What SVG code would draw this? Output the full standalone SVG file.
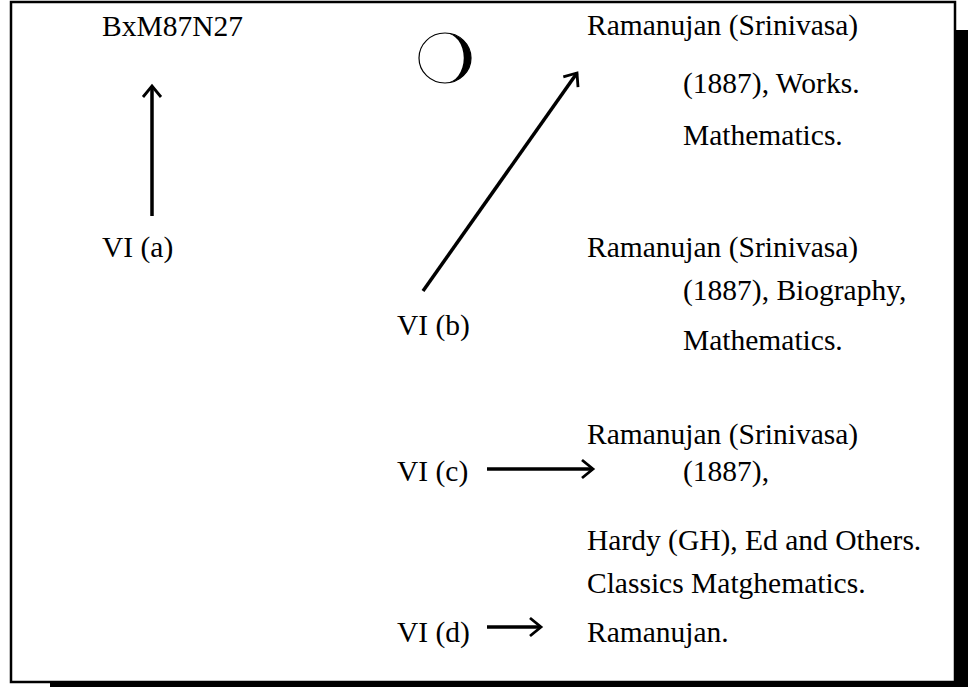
<svg xmlns="http://www.w3.org/2000/svg" width="972" height="687" viewBox="0 0 972 687">
<style>
text{font-family:"Liberation Serif","Times New Roman",serif;font-size:29.5px;fill:#000}
.ln{stroke:#000;stroke-width:3.5;fill:none}
</style>
<defs>
<marker id="ah" markerWidth="16" markerHeight="22" refX="12.5" refY="10" orient="auto" markerUnits="userSpaceOnUse" viewBox="0 0 16 20">
<path d="M1.5,1 L12.5,10 L1.5,19" fill="none" stroke="#000" stroke-width="2.8"/>
</marker>
</defs>
<rect x="50" y="30" width="918" height="670" fill="#000"/>
<rect x="11" y="2" width="944" height="680" fill="#fff" stroke="#000" stroke-width="2.5"/>
<g id="connectors">
<line class="ln" x1="152" y1="216" x2="152" y2="86" marker-end="url(#ah)"/>
<line class="ln" x1="423" y1="291" x2="577" y2="73" marker-end="url(#ah)"/>
<line class="ln" x1="487" y1="469" x2="593" y2="469" marker-end="url(#ah)"/>
<line class="ln" x1="487" y1="627" x2="541" y2="627" marker-end="url(#ah)"/>
</g>
<g id="circle">
<ellipse cx="445" cy="58" rx="26" ry="25" fill="none" stroke="#000" stroke-width="1.2"/>
<path d="M445,33 A26,25 0 0 1 445,83 A18,24 0 0 0 445,33 Z" fill="#000"/>
</g>
<g id="node-bxm"><text x="102" y="36">BxM87N27</text></g>
<g id="node-via"><text x="102" y="257">VI (a)</text></g>
<g id="node-vib"><text x="397" y="335">VI (b)</text></g>
<g id="node-vic"><text x="397" y="481">VI (c)</text></g>
<g id="node-vid"><text x="397" y="642">VI (d)</text></g>
<g id="node-works">
<text x="587" y="35">Ramanujan (Srinivasa)</text>
<text x="683" y="93">(1887), Works.</text>
<text x="683" y="145">Mathematics.</text>
</g>
<g id="node-bio">
<text x="587" y="257">Ramanujan (Srinivasa)</text>
<text x="683" y="300">(1887), Biography,</text>
<text x="683" y="350">Mathematics.</text>
</g>
<g id="node-classics">
<text x="587" y="444">Ramanujan (Srinivasa)</text>
<text x="683" y="481">(1887),</text>
<text x="587" y="550">Hardy (GH), Ed and Others.</text>
<text x="587" y="593">Classics Matghematics.</text>
</g>
<g id="node-ram"><text x="587" y="642">Ramanujan.</text></g>
</svg>
